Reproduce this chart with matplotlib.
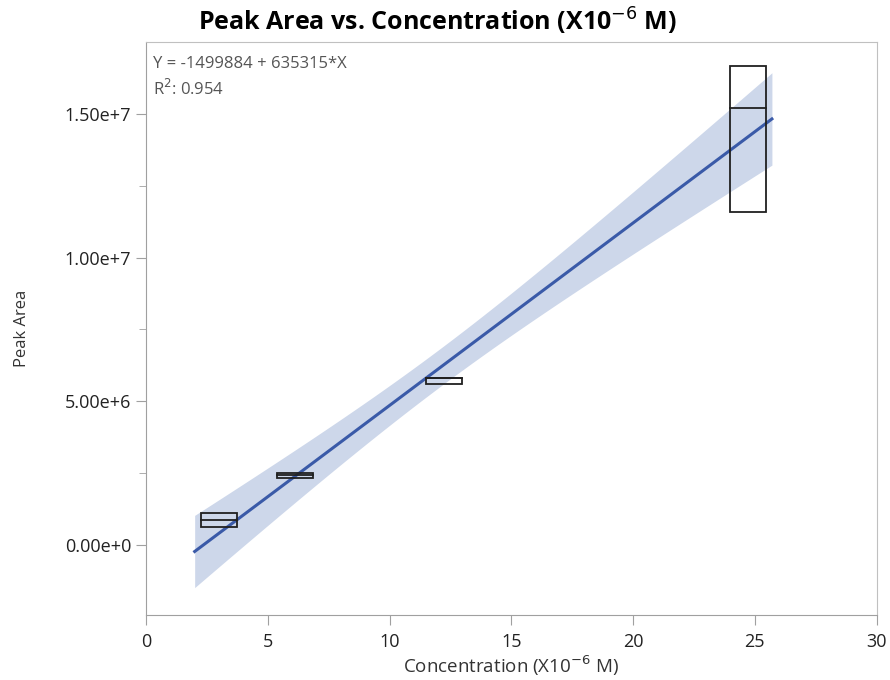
import matplotlib.pyplot as plt
import numpy as np

# box summaries per concentration level
conc = [3.0, 6.1, 12.25, 24.7]
q_low = [0.63e6, 2.33e6, 5.60e6, 1.16e7]
median = [0.87e6, 2.43e6, 5.80e6, 1.52e7]
q_high = [1.11e6, 2.50e6, 5.82e6, 1.667e7]

# fit reported by the source
intercept = -1499884
slope = 635315
r2 = 0.954
fit_x_range = [2.0, 25.7]
band_center_x = 12.0
band_half_min = 6.6e5
band_half_slope = 1.07e5

plt.rcParams['font.family'] = ['Open Sans', 'DejaVu Sans']

fig = plt.figure(figsize=(8.9, 6.8), dpi=100)
ax = fig.add_axes([0.164, 0.0956, 0.821, 0.8424])

xs = np.linspace(fit_x_range[0], fit_x_range[1], 200)
ys = intercept + slope * xs
half = np.sqrt(band_half_min ** 2 + (band_half_slope * (xs - band_center_x)) ** 2)
ax.fill_between(xs, ys - half, ys + half, color='#cdd7ea', lw=0, zorder=1)
ax.plot(xs, ys, color='#3a5aa8', lw=2.2, zorder=2)

bw = 1.48
for c, lo, md, hi in zip(conc, q_low, median, q_high):
    ax.add_patch(plt.Rectangle((c - bw / 2, lo), bw, hi - lo, fill=False,
                               edgecolor='#202020', lw=1.3, zorder=3))
    ax.plot([c - bw / 2, c + bw / 2], [md, md], color='#202020', lw=1.3, zorder=3)

ax.set_xlim(0, 30)
ax.set_ylim(-2.44e6, 1.75e7)
ax.set_xticks(np.arange(0, 31, 5))
ax.set_yticks([0, 5e6, 1e7, 1.5e7])
ax.set_yticklabels(['0.00e+0', '5.00e+6', '1.00e+7', '1.50e+7'])
ax.set_yticks([2.5e6, 7.5e6, 1.25e7], minor=True)
ax.tick_params(axis='both', which='major', length=7, color='#a0a0a0',
               labelsize=13, labelcolor='#222222')
ax.tick_params(axis='x', pad=6)
ax.tick_params(axis='y', which='minor', length=5, color='#a0a0a0')
for s in ax.spines.values():
    s.set_color('#c0c0c0')
ax.spines['left'].set_color('#a0a0a0')
ax.spines['bottom'].set_color('#a0a0a0')

ax.set_xlabel('Concentration (X10$^{-6}$ M)', fontsize=13.5, color='#333333', labelpad=2)
ax.set_ylabel('Peak Area', fontsize=12, color='#333333', labelpad=25)
fig.text(0.491, 0.968, 'Peak Area vs. Concentration (X10$^{-6}$ M)', fontsize=18,
         fontweight='bold', ha='center', va='center')

ax.text(0.009, 0.975, 'Y = %d + %d*X' % (intercept, slope), transform=ax.transAxes,
        fontsize=12, color='#555555', va='top')
ax.text(0.009, 0.935, 'R$^2$: %.3f' % r2, transform=ax.transAxes,
        fontsize=12, color='#555555', va='top')

fig.savefig('out.png', dpi=100)
